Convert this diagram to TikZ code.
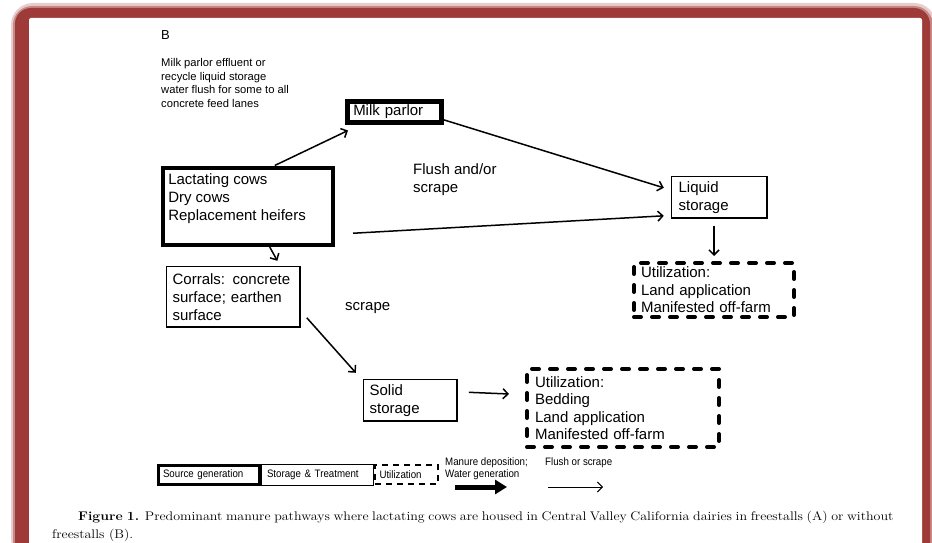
\documentclass[tikz,border=0pt]{standalone}
\usepackage{fontspec}
\newfontfamily\arialfont{Liberation Sans}
\newfontfamily\narrowfont[FakeStretch=0.9]{Liberation Sans}
\usetikzlibrary{arrows.meta,positioning,calc}
\definecolor{framered}{RGB}{158,58,56}

\begin{document}
\begin{tikzpicture}[
    x=1pt, y=-1pt,
    >={Straight Barb[length=5pt,width=10pt]},
    box/.style={draw, line width=1.6pt, anchor=north west, align=left, inner ysep=0pt, font=\arialfont\fontsize{15}{18}\selectfont},
    heavy/.style={box, line width=4.5pt},
    util/.style={box, line width=4pt, dash pattern=on 7pt off 11pt, line cap=round, font=\arialfont\fontsize{15}{17.5}\selectfont},
    lbl/.style={anchor=west, inner sep=0pt, align=left, font=\arialfont\fontsize{15}{18}\selectfont},
    keybox/.style={draw, anchor=north west, align=left, inner ysep=0pt, minimum height=19pt, font=\narrowfont\fontsize{10.8}{12}\selectfont},
    keytext/.style={anchor=west, inner sep=0pt, align=left, font=\narrowfont\fontsize{10.8}{12}\selectfont},
    flow/.style={->, line width=1.5pt},
    captext/.style={anchor=west, inner sep=0pt, font=\fontsize{12.5}{16}\selectfont},
]
\useasboundingbox (0,0) rectangle (932,543);
\clip (0,0) rectangle (932,543);

\fill[framered!25, rounded corners=22pt] (11,3) rectangle (936,560);
\fill[framered!60, rounded corners=19pt] (13,6) rectangle (933,560);
\fill[framered, rounded corners=16pt] (15,8) rectangle (930,560);
\fill[white, rounded corners=2pt] (29,18) rectangle (922,560);

\node[anchor=west, inner sep=0pt, font=\arialfont\fontsize{13}{15}\selectfont] (title) at (161,35) {B};
\node[anchor=west, inner sep=0pt, align=left, font=\arialfont\fontsize{11.2}{13.5}\selectfont] (effluent) at (161,83)
    {Milk parlor effluent or\\recycle liquid storage\\water flush for some to all\\concrete feed lanes};

\node[heavy, minimum width=94pt, minimum height=21pt, text width=82pt, inner xsep=6pt] (milk) at (345,99) {Milk parlor};
\node[heavy, inner xsep=5.5pt, inner ysep=6pt] (lact) at (160.5,165.5)
    {\parbox[c][65pt][t]{159pt}{Lactating cows\\Dry cows\\Replacement heifers}};
\node[box, minimum width=133.4pt, minimum height=60.4pt, text width=121.4pt, inner xsep=6pt] (corrals) at (165.8,265.8)
    {Corrals: concrete\\surface; earthen\\surface};
\node[box, minimum width=95.4pt, minimum height=41.4pt, text width=81.4pt, inner xsep=7pt] (liquid) at (670.8,175.8)
    {Liquid\\storage};
\node[util, minimum width=159pt, minimum height=54pt, text width=146pt, inner xsep=7pt] (util1) at (632,261)
    {Utilization:\\Land application\\Manifested off-farm};
\node[box, minimum width=93.4pt, minimum height=41.4pt, text width=81.4pt, inner xsep=6pt] (solid) at (362.8,378.8)
    {Solid\\storage};
\node[util, minimum width=191pt, minimum height=78pt, text width=176pt, inner xsep=8pt] (util2) at (525,367)
    {Utilization:\\Bedding\\Land application\\Manifested off-farm};

\node[lbl] (flush) at (413,180) {Flush and/or\\scrape};
\node[lbl] (scrape) at (345,308) {scrape};

\draw[flow] ([xshift=27pt]lact.north) -- ([xshift=3pt,yshift=-6pt]milk.south west);
\draw[flow] ([yshift=-8pt]milk.east) -- ([xshift=-7pt,yshift=9.5pt]liquid.west);
\draw[flow] ([xshift=18pt,yshift=-27pt]lact.east) -- ([xshift=-7pt,yshift=-18.5pt]liquid.west);
\draw[flow, shorten <=7pt, shorten >=5pt] (util1.north |- liquid.south) -- (util1.north);
\draw[flow] ([xshift=22pt]lact.south) -- ([xshift=44pt,yshift=5pt]corrals.north);
\draw[flow] ([xshift=6pt,yshift=10pt]corrals.south east) -- ([xshift=-7pt,yshift=6pt]solid.north west);
\draw[flow] ([xshift=11pt,yshift=8pt]solid.east) -- ([xshift=-16pt,yshift=14pt]util2.west);

\node[keybox, line width=3pt, minimum width=101pt, text width=91pt, inner xsep=5pt] (src) at (156.5,463.5) {Source generation};
\node[keybox, line width=1pt, minimum width=112pt, minimum height=21pt, text width=100pt, inner xsep=6pt, right=0pt of src] (stor) {Storage \& Treatment};
\node[keybox, line width=2pt, dash pattern=on 6pt off 5pt, minimum width=63pt, text width=53pt, inner xsep=5pt, right=0pt of stor] (utl) {Utilization};
\node[keytext] (manure) at (445,469) {Manure deposition;\\Water generation};
\node[keytext] (flushkey) at (545,463) {Flush or scrape};
\coordinate (fatA) at (455,487);
\coordinate (fatB) at (507,487);
\coordinate (thinA) at (548,487);
\coordinate (thinB) at (603,487);
\draw[line width=5pt, -{Triangle[length=12pt,width=14pt]}] (fatA) -- (fatB);
\draw[->, line width=1pt] (thinA) -- (thinB);

\node[captext] (caption) at (78,517)
    {\scalebox{1.12}[1]{\makebox[728pt][s]{\textbf{Figure 1.} Predominant manure pathways where lactating cows are housed in Central Valley California dairies in freestalls (A) or without}}};
\node[captext] (caption2) at (52,535) {\scalebox{1.12}[1]{freestalls (B).}};
\end{tikzpicture}
\end{document}
